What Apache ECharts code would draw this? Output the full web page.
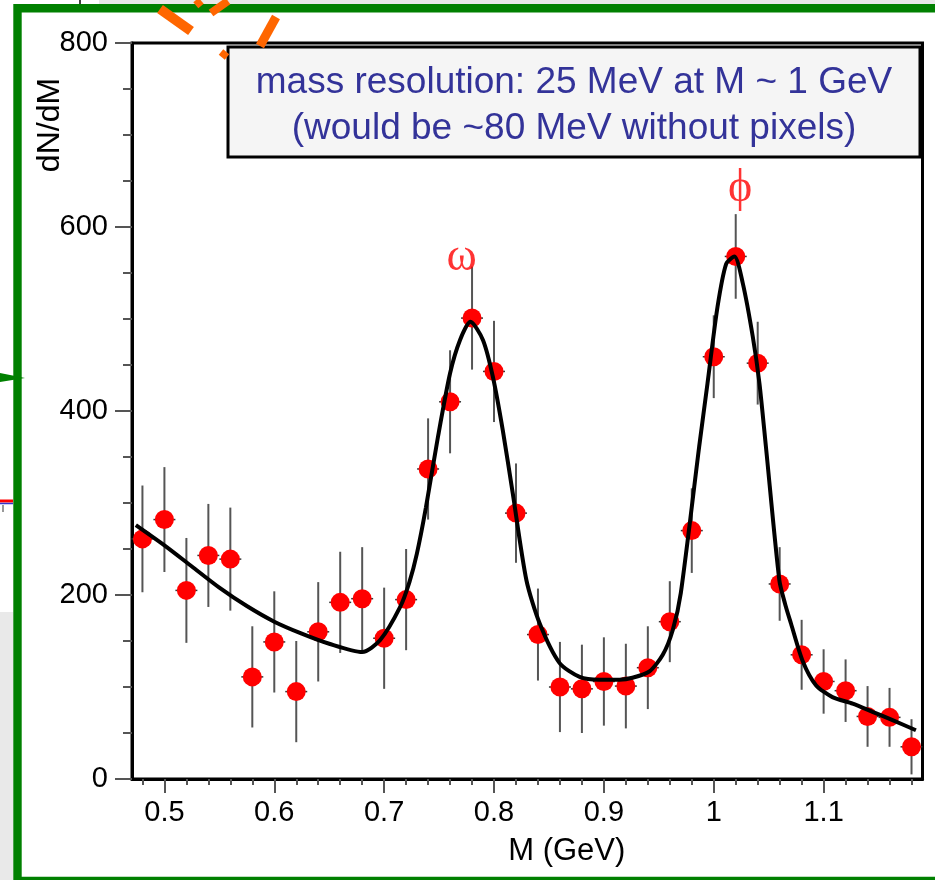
<!DOCTYPE html>
<html><head><meta charset="utf-8">
<script src="https://cdn.jsdelivr.net/npm/echarts@6/dist/echarts.min.js"></script>
<style>html,body{margin:0;padding:0;background:#fff}#c{width:935px;height:880px}</style>
</head><body><div id="c"></div>
<script>
// ---- data ----
const massBins = [0.48,0.50,0.52,0.54,0.56,0.58,0.60,0.62,0.64,0.66,0.68,0.70,0.72,0.74,0.76,0.78,0.80,0.82,0.84,0.86,0.88,0.90,0.92,0.94,0.96,0.98,1.00,1.02,1.04,1.06,1.08,1.10,1.12,1.14,1.16,1.18];
const counts   = [261,282,205,243,239,111,149,95,160,192,196,153,195,337,410,501,443,289,157,100,98,106,101,121,171,270,459,568,452,212,135,106,96,68,67,35];
const errors   = [58,57,57,56,56,55,55,55,54,55,56,55,55,55,56,56,55,54,50,49,48,48,46,45,44,46,45,46,45,40,38,35,34,33,32,30];
const binHalfWidth = 0.01;

const fitM = [0.474,0.50,0.525,0.55,0.575,0.60,0.625,0.65,0.68,0.6964,0.7146,0.723,0.7298,0.738,0.749,0.760,0.769,0.7785,0.790,0.799,0.808,0.817,0.8295,0.8416,0.8597,0.8779,0.896,0.9143,0.926,0.9415,0.9536,0.9627,0.970,0.9867,0.9943,1.0034,1.0113,1.0188,1.0264,1.0355,1.0416,1.0475,1.0597,1.065,1.0703,1.081,1.093,1.108,1.1264,1.1445,1.1627,1.184];
const fitN = [276,254,231,208,188,171,158,147,138,151,187,214,245,295,372,441,477,497,477,437,379,311,216,169,126,111,108,108,110,117,135,162,202,361,430,513,560,568,539,481,430,361,216,190,169,128,102,89,82,73,64,53];

const xMajorTicks = [0.5,0.6,0.7,0.8,0.9,1.0,1.1];
const xMinorTicks = [0.48,0.52,0.54,0.56,0.58,0.62,0.64,0.66,0.68,0.72,0.74,0.76,0.78,0.82,0.84,0.86,0.88,0.92,0.94,0.96,0.98,1.02,1.04,1.06,1.08,1.12,1.14,1.16,1.18];
const yTickMax = 800, yTickStep = 200;

const peakLabels = ['ω','ϕ'];
const peakM = [0.7705, 1.024];
const peakN = [566, 641];

const annotationLines = ['mass resolution: 25 MeV at M ~ 1 GeV', '(would be ~80 MeV without pixels)'];
const xTitle = 'M (GeV)';
const yTitle = 'dN/dM';

// ---- chart ----
const chart = echarts.init(document.getElementById('c'), null, {renderer: 'canvas'});
const SANS = '"Liberation Sans", Arial, Helvetica, sans-serif';
const SERIF = '"Liberation Serif", "Times New Roman", "DejaVu Serif", serif';

const pts = massBins.map((m, i) => [m, counts[i], errors[i]]);
const fit = fitM.map((m, i) => [m, fitN[i]]);

const option = {
  animation: false,
  backgroundColor: '#ffffff',
  grid: {left: 132, top: 43, right: 12.5, bottom: 101, show: true, borderColor: '#000', borderWidth: 3, backgroundColor: 'transparent'},
  xAxis: [{
    type: 'value', min: 0.4705, max: 1.19,
    axisLine: {show: true, onZero: false, lineStyle: {color: '#000', width: 3}},
    axisTick: {show: true, customValues: xMajorTicks, length: 14, lineStyle: {color: '#555', width: 2}},
    axisLabel: {show: true, customValues: xMajorTicks, margin: 19, fontSize: 29, color: '#000', fontFamily: SANS,
      formatter: v => String(parseFloat(Number(v).toFixed(2)))},
    splitLine: {show: false},
    name: xTitle, nameLocation: 'middle', nameGap: 57,
    nameTextStyle: {fontSize: 31, color: '#000', fontFamily: SANS, padding: [0, 0, 0, 79]}
  }, {
    type: 'value', min: 0.4705, max: 1.19, position: 'bottom', gridIndex: 0,
    axisLine: {show: false},
    axisTick: {show: true, customValues: xMinorTicks, length: 6, lineStyle: {color: '#555', width: 2}},
    axisLabel: {show: false},
    splitLine: {show: false}
  }],
  yAxis: {
    type: 'value', min: 0, max: yTickMax, interval: yTickStep,
    axisLine: {show: true, onZero: false, lineStyle: {color: '#000', width: 3}},
    axisTick: {show: true, length: 17, lineStyle: {color: '#555', width: 2}},
    minorTick: {show: true, splitNumber: 4, length: 9, lineStyle: {color: '#555', width: 2}},
    axisLabel: {margin: 24, fontSize: 29, color: '#000', fontFamily: SANS},
    splitLine: {show: false}
  },
  series: [{
    type: 'custom', name: 'errors', xAxisIndex: 0, z: 2,
    data: pts,
    renderItem: (params, api) => {
      const x = api.value(0), y = api.value(1), e = api.value(2);
      const t = api.coord([x, y + e]), b = api.coord([x, y - e]);
      const l = api.coord([x - binHalfWidth, y]), r = api.coord([x + binHalfWidth, y]);
      return {type: 'group', children: [
        {type: 'line', shape: {x1: t[0], y1: t[1], x2: b[0], y2: b[1]}, style: {stroke: '#555', lineWidth: 2}},
        {type: 'line', shape: {x1: l[0], y1: l[1], x2: r[0], y2: r[1]}, style: {stroke: '#333', lineWidth: 1.5}}
      ]};
    }
  }, {
    type: 'scatter', name: 'data', xAxisIndex: 0, z: 3,
    data: pts.map(p => [p[0], p[1]]), symbol: 'circle', symbolSize: 19,
    itemStyle: {color: '#ff0000', opacity: 1}
  }, {
    type: 'line', name: 'fit', xAxisIndex: 0, z: 4,
    data: fit, smooth: 0.25, showSymbol: false,
    lineStyle: {color: '#000', width: 4}
  }, {
    type: 'scatter', name: 'peaks', xAxisIndex: 0, z: 5,
    data: peakM.map((m, i) => [m, peakN[i], peakLabels[i]]),
    symbolSize: 1, itemStyle: {color: 'rgba(0,0,0,0)'},
    label: {show: true, position: 'inside', formatter: p => p.value[2], fontSize: 46, color: '#ff0000', fontFamily: SERIF}
  }],
  graphic: {elements: [
    // slide decorations around the chart
    {type: 'rect', z: -10, shape: {x: 99, y: 0, width: 840, height: 4}, style: {fill: '#e8e8e8'}},
    {type: 'line', z: -10, shape: {x1: 80, y1: 0, x2: 80, y2: 4}, style: {stroke: '#000', lineWidth: 1.5}},
    {type: 'rect', z: -10, shape: {x: 0, y: 612, width: 13.3, height: 270}, style: {fill: '#e9e9e9'}},
    {type: 'rect', z: 100, shape: {x: 17.5, y: 8.3, width: 935, height: 872.6}, style: {fill: 'none', stroke: '#008000', lineWidth: 8.4}},
    {type: 'polygon', z: 100, shape: {points: [[0, 373], [0, 382], [25, 378]]}, style: {fill: '#008000'}},
    {type: 'line', z: 100, shape: {x1: 0, y1: 501, x2: 13, y2: 501}, style: {stroke: '#ff0000', lineWidth: 3}},
    {type: 'line', z: 100, shape: {x1: 0, y1: 503.5, x2: 13, y2: 503.5}, style: {stroke: '#3333cc', lineWidth: 1.5}},
    {type: 'line', z: 100, shape: {x1: 3, y1: 505, x2: 3, y2: 512}, style: {stroke: '#777', lineWidth: 1.5}},
    {type: 'line', z: 100, shape: {x1: 160, y1: 9, x2: 191, y2: 31}, style: {stroke: '#ff6600', lineWidth: 10}},
    {type: 'line', z: 100, shape: {x1: 196, y1: 0, x2: 201, y2: 6}, style: {stroke: '#ff6600', lineWidth: 7}},
    {type: 'line', z: 100, shape: {x1: 211, y1: 13, x2: 228, y2: 1}, style: {stroke: '#ff6600', lineWidth: 8}},
    {type: 'line', z: 100, shape: {x1: 260, y1: 46, x2: 276, y2: 17}, style: {stroke: '#ff6600', lineWidth: 9}},
    // annotation box
    {type: 'rect', z: 50, shape: {x: 228, y: 47, width: 692, height: 110}, style: {fill: '#f5f5f5', stroke: '#000', lineWidth: 3}},
    {type: 'text', z: 51, x: 574, y: 106, style: {text: annotationLines.join('\n'), fill: '#333399', font: '37px ' + SANS, align: 'center', verticalAlign: 'middle', lineHeight: 46}},
    {type: 'line', z: 100, shape: {x1: 221, y1: 52, x2: 227, y2: 57}, style: {stroke: '#ff6600', lineWidth: 7}},
    // y-axis title
    {type: 'text', z: 51, x: 50, y: 125, rotation: Math.PI / 2, style: {text: yTitle, fill: '#000', font: '32px ' + SANS, align: 'center', verticalAlign: 'middle'}}
  ]}
};
chart.setOption(option);
</script>
</body></html>
